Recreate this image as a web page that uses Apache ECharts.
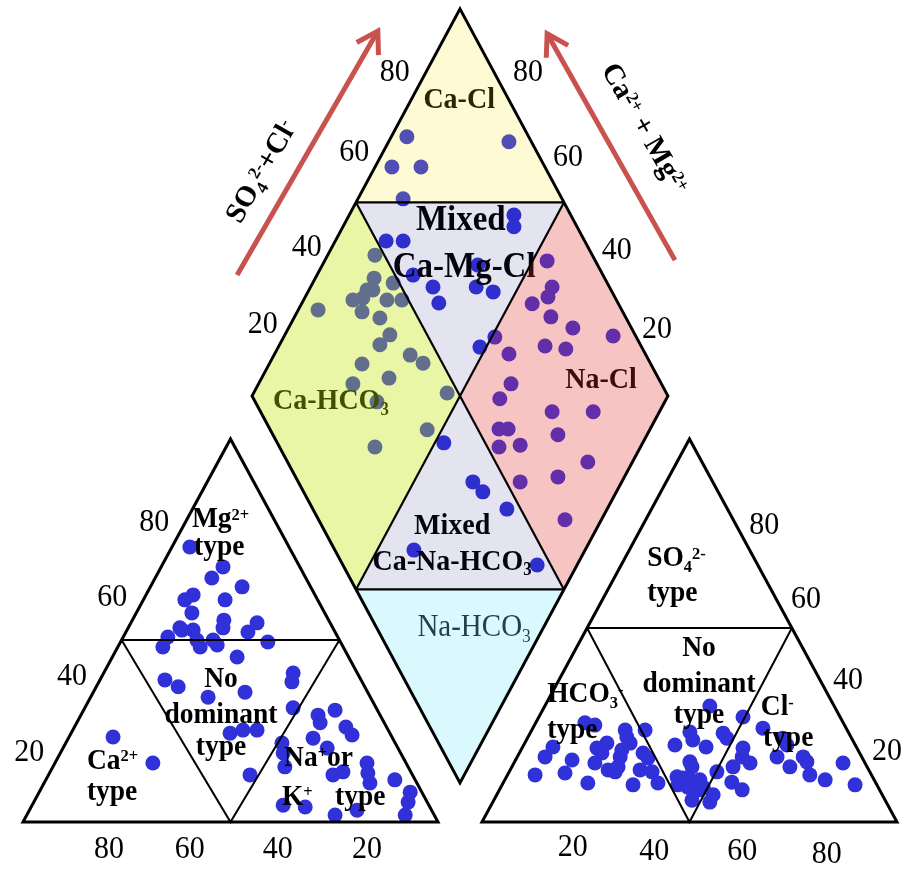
<!DOCTYPE html>
<html>
<head>
<meta charset="utf-8">
<title>Piper diagram</title>
<script src="https://cdn.jsdelivr.net/npm/echarts@6/dist/echarts.min.js"></script>
<style>
  html, body { margin: 0; padding: 0; background: #fff; }
  #piper { width: 914px; height: 869px; }
</style>
</head>
<body>
<div id="piper"></div>
<script>
// plot units: x = % along a triangle base (cation triangle 0-100), y = % of a triangle height
const GAP = 10.6

// cation triangle samples
const cationPoints = [
  [40.2, 71.8], [48.2, 66.6], [45.5, 63.7], [52.8, 61.4], [41.0, 59.3], [39.0, 58.0], [48.7, 58.0],
  [40.7, 54.6], [48.4, 52.7], [48.2, 50.7], [38.3, 50.1], [34.9, 48.3], [41.0, 50.1], [41.9, 47.5],
  [45.8, 47.5], [33.7, 45.7], [56.4, 52.0], [54.2, 49.6], [59.0, 47.0], [37.8, 50.7], [42.7, 45.7],
  [46.8, 46.2], [34.2, 37.1], [37.4, 35.3], [44.6, 32.6], [49.9, 23.2], [21.7, 22.2], [31.3, 15.4],
  [51.6, 43.1], [65.1, 38.9], [64.8, 36.6], [53.5, 33.9], [65.1, 29.8], [75.2, 29.2], [71.1, 27.9],
  [71.6, 25.9], [77.8, 24.8], [79.3, 22.7], [53.0, 24.0], [56.4, 24.0], [69.9, 21.9], [62.4, 20.6],
  [73.3, 19.3], [62.7, 18.0], [63.1, 14.4], [82.9, 15.4], [83.1, 12.8], [83.6, 10.2], [74.7, 12.3],
  [77.1, 13.1], [54.7, 12.3], [89.6, 11.0], [93.3, 7.8], [92.8, 5.2], [62.7, 4.4], [68.0, 3.9],
  [80.5, 3.1], [75.2, 1.8], [92.1, 1.8]
]

// anion triangle samples
const anionPoints = [
  [165.5, 30.3], [173.5, 27.4], [135.4, 25.9], [137.8, 25.3], [145.1, 24.0], [145.5, 22.2], [146.3, 20.6],
  [149.9, 24.0], [168.7, 23.2], [169.6, 21.9], [178.3, 24.5], [160.7, 23.5], [161.4, 21.4], [127.7, 19.6],
  [140.7, 20.6], [138.3, 19.3], [139.5, 18.0], [144.3, 18.8], [143.9, 17.0], [143.4, 14.4], [157.1, 20.1],
  [164.6, 19.6], [173.5, 19.3], [173.3, 17.0], [183.1, 21.9], [184.1, 20.1], [125.8, 17.0], [132.3, 16.2],
  [137.8, 15.4], [149.4, 18.0], [150.6, 16.7], [181.7, 17.0], [188.0, 17.0], [188.9, 15.7], [160.7, 15.7],
  [161.2, 14.4], [175.2, 15.4], [197.6, 15.4], [123.4, 12.3], [130.6, 12.8], [141.0, 13.6], [142.7, 13.1],
  [148.7, 13.6], [151.6, 13.1], [167.2, 13.1], [171.1, 14.4], [184.8, 14.4], [189.6, 12.3], [193.3, 11.0],
  [157.6, 11.8], [159.0, 11.5], [160.7, 11.0], [163.1, 11.0], [157.8, 9.7], [160.2, 9.1], [170.8, 10.4],
  [136.1, 10.2], [147.0, 9.7], [153.0, 10.2], [200.5, 9.7], [173.3, 8.4], [163.1, 8.4], [163.9, 9.1],
  [166.3, 7.1], [165.5, 5.2], [161.2, 5.7]
]

// diamond samples
const diamondPoints = [
  [92.5, 178.9], [117.1, 177.6], [88.9, 171.0], [95.9, 171.0], [91.6, 162.7],
  [87.5, 151.7], [91.6, 151.7], [94.0, 142.8], [98.8, 139.7], [100.2, 135.5], [118.3, 158.5],
  [118.3, 155.4], [109.6, 145.4], [109.2, 139.7], [113.3, 138.4], [110.1, 124.0],
  [101.4, 99.0], [108.4, 88.8], [110.8, 86.2], [116.6, 81.7], [94.2, 71.0], [123.9, 67.1],
  [84.8, 148.0], [84.6, 142.0], [89.2, 140.7], [82.9, 138.9], [84.3, 138.9], [79.5, 136.3],
  [81.9, 136.8], [87.7, 136.3], [91.3, 136.3], [71.1, 133.7], [81.7, 133.2], [86.0, 131.6],
  [88.4, 127.2], [86.0, 124.6], [93.3, 121.9], [96.4, 119.8], [81.7, 119.6], [88.2, 115.9],
  [79.5, 114.4], [85.3, 109.7], [102.2, 112.0], [97.4, 102.4], [84.8, 97.9],
  [126.3, 146.5], [127.5, 139.7], [126.5, 137.1], [122.7, 135.3], [127.2, 131.9], [132.5, 129.0],
  [142.2, 126.9], [113.7, 126.6], [125.8, 124.3], [130.8, 123.5], [117.1, 122.2], [117.6, 114.4],
  [114.9, 110.5], [127.5, 107.1], [137.4, 107.1], [114.7, 102.6], [116.9, 102.6], [128.9, 101.1],
  [114.7, 97.9], [119.8, 98.4], [136.1, 94.0], [119.8, 88.8], [128.9, 90.1], [130.6, 78.9]
]

const tickValues = ['20', '40', '60', '80']

// where each edge's tick labels sit (same order as tickValues)
const tickAnchors = {
  cationLeft: [[1.5, 18.0], [11.8, 37.9], [21.5, 58.5], [31.6, 78.3]],
  cationBottom: [[82.9, -7.3], [61.4, -7.3], [40.2, -7.3], [20.7, -7.3]],
  anionRight: [[208.2, 18.3], [198.8, 36.8], [188.7, 58.0], [178.6, 77.3]],
  anionBottom: [[132.5, -6.8], [152.1, -7.8], [173.3, -7.8], [193.7, -8.6]],
  diamondLeft: [[57.8, 129.8], [68.4, 149.9], [79.8, 174.7], [89.6, 195.6]],
  diamondRight: [[152.8, 128.5], [143.1, 149.1], [131.3, 173.4], [121.7, 195.6]]
}

const DOT = '#3131d9'
const SERIF = '"Liberation Serif", "Times New Roman", serif'
const STRETCH = 1.067

// geometry
const L = [[0, 0], [100, 0], [50, 100]]
const R = [[100 + GAP, 0], [200 + GAP, 0], [150 + GAP, 100]]
const dTop = [105.3, 212.3]
const dBottom = [105.3, 10.2]
const dLeft = [55.2, 111.25]
const dRight = [155.4, 111.25]
const mid = (a, b) => [(a[0] + b[0]) / 2, (a[1] + b[1]) / 2]
const dCenter = mid(dTop, dBottom)
const dUL = mid(dLeft, dTop)
const dUR = mid(dRight, dTop)
const dLL = mid(dLeft, dBottom)
const dLR = mid(dRight, dBottom)
const cSplit = 47.5
const aSplit = 50.65

const regions = [
  { pts: [dTop, dUL, dUR], fill: 'rgba(243,226,0,0.17)' },
  { pts: [dUL, dUR, dCenter], fill: 'rgba(30,30,135,0.12)' },
  { pts: [dLeft, dUL, dCenter, dLL], fill: 'rgba(189,229,0,0.35)' },
  { pts: [dRight, dUR, dCenter, dLR], fill: 'rgba(226,44,44,0.28)' },
  { pts: [dCenter, dLL, dLR], fill: 'rgba(30,30,135,0.12)' },
  { pts: [dLL, dLR, dBottom], fill: 'rgba(120,235,250,0.28)' }
]

const frames = [
  { pts: L, closed: true, w: 3 },
  { pts: R, closed: true, w: 3 },
  { pts: [dTop, dRight, dBottom, dLeft], closed: true, w: 3 },
  { pts: [dUL, dUR], w: 2.2 },
  { pts: [dLL, dLR], w: 2.2 },
  { pts: [dUL, dLR], w: 2.2 },
  { pts: [dUR, dLL], w: 2.2 },
  { pts: [[cSplit / 2, cSplit], [100 - cSplit / 2, cSplit]], w: 2 },
  { pts: [[cSplit / 2, cSplit], [50, 0], [100 - cSplit / 2, cSplit]], w: 2 },
  { pts: [[100 + GAP + aSplit / 2, aSplit], [200 + GAP - aSplit / 2, aSplit]], w: 2 },
  { pts: [[100 + GAP + aSplit / 2, aSplit], [150 + GAP, 0], [200 + GAP - aSplit / 2, aSplit]], w: 2 }
]

// labels inside the coloured fields (drawn under the fills, so they pick up the tint)
const fieldTexts = [
  { text: 'Ca-Cl', pos: [105.1, 188.5], size: 28 },
  { text: 'Mixed', pos: [105.5, 156.9], size: 33 },
  { text: 'Ca-Mg-Cl', pos: [106.3, 144.7], size: 33 },
  { text: 'Ca-HCO{sub|3}', pos: [74.2, 109.9], size: 28 },
  { text: 'Na-Cl', pos: [139.3, 115.4], size: 28 },
  { text: 'Mixed', pos: [103.4, 77.3], size: 28 },
  { text: 'Ca-Na-HCO{sub|3}', pos: [103.4, 67.9], size: 28 },
  { text: 'Na-HCO{sub|3}', pos: [108.7, 50.7], size: 29, weight: 'normal' }
]

const typeTexts = [
  { text: 'Mg{sup|2+}', pos: [40.7, 78.9], align: 'left' },
  { text: 'type', pos: [41.2, 71.8], align: 'left' },
  { text: 'No', pos: [47.7, 37.3] },
  { text: 'dominant', pos: [47.7, 27.7] },
  { text: 'type', pos: [47.7, 19.6] },
  { text: 'Ca{sup|2+}', pos: [15.4, 15.9], align: 'left' },
  { text: 'type', pos: [15.4, 7.6], align: 'left' },
  { text: 'Na{sup|+}or', pos: [62.9, 16.7], align: 'left' },
  { text: 'K{sup|+}', pos: [62.4, 6.5], align: 'left' },
  { text: 'type', pos: [75.2, 6.5], align: 'left' },
  { text: 'SO{sub|4}{sup|2-}', pos: [150.4, 68.7], align: 'left' },
  { text: 'type', pos: [150.4, 59.8], align: 'left' },
  { text: 'No', pos: [162.9, 45.4] },
  { text: 'dominant', pos: [162.9, 36.0] },
  { text: 'type', pos: [162.9, 27.9] },
  { text: 'HCO{sub|3}{sup|-}', pos: [126.3, 33.2], align: 'left' },
  { text: 'type', pos: [126.3, 24.0], align: 'left' },
  { text: 'Cl{sup|-}', pos: [177.8, 29.8], align: 'left' },
  { text: 'type', pos: [178.3, 21.7], align: 'left' }
]

const arrows = [
  { from: [51.6, 142.8], to: [85.5, 206.5], text: 'SO{sub|4}{sup|2-}+Cl{sup|-}', textPos: [57.6, 169.7], rotate: 60 },
  { from: [157.1, 146.7], to: [126.3, 205.8], text: 'Ca{sup|2+} + Mg{sup|2+}', textPos: [149.6, 180.9], rotate: -60 }
]

const allTicks = []
Object.keys(tickAnchors).forEach(k => {
  tickAnchors[k].forEach((pos, i) => {
    allTicks.push({ text: tickValues[i], pos, size: 30, weight: 'normal' })
  })
})

function font (size, weight) {
  return `${weight || 'bold'} ${size}px ${SERIF}`
}

function textEl (t, api) {
  const p = api.coord(t.pos)
  const size = t.size || 27.5
  const w = t.weight || 'bold'
  return {
    type: 'text',
    x: p[0],
    y: p[1],
    rotation: (t.rotate || 0) * Math.PI / 180,
    scaleY: t.rotate ? 1 : STRETCH,
    style: {
      text: t.text,
      font: font(size, w),
      fill: '#000',
      align: t.align || 'center',
      verticalAlign: 'middle',
      lineHeight: size * 1.2,
      rich: {
        sup: { font: font(size * 0.6, w), verticalAlign: 'top', padding: [size * 0.14, 0, 0, 0] },
        sub: { font: font(size * 0.6, w), verticalAlign: 'bottom' }
      }
    }
  }
}

function textSeries (list, z) {
  return {
    type: 'custom',
    z,
    silent: true,
    data: list.map(t => t.pos),
    renderItem: (params, api) => textEl(list[params.dataIndex], api)
  }
}

function dots (data) {
  return {
    type: 'scatter',
    z: 1,
    silent: true,
    symbolSize: 15,
    itemStyle: { color: DOT, opacity: 1 },
    data
  }
}

const option = {
  animation: false,
  backgroundColor: '#fff',
  grid: { left: 0, right: 0, top: 0, bottom: 0 },
  xAxis: { type: 'value', min: -5.54, max: 214.7, show: false },
  yAxis: { type: 'value', min: -12.27, max: 214.62, show: false },
  series: [
    dots(cationPoints),
    dots(anionPoints),
    dots(diamondPoints),
    textSeries(fieldTexts, 2),
    {
      type: 'custom',
      z: 3,
      silent: true,
      data: regions.map(r => r.pts[0]),
      renderItem: (params, api) => ({
        type: 'polygon',
        shape: { points: regions[params.dataIndex].pts.map(p => api.coord(p)) },
        style: { fill: regions[params.dataIndex].fill }
      })
    },
    {
      type: 'custom',
      z: 4,
      silent: true,
      data: frames.map(f => f.pts[0]),
      renderItem: (params, api) => {
        const f = frames[params.dataIndex]
        return {
          type: f.closed ? 'polygon' : 'polyline',
          shape: { points: f.pts.map(p => api.coord(p)) },
          style: { fill: null, stroke: '#000', lineWidth: f.w, lineJoin: 'miter' }
        }
      }
    },
    textSeries(typeTexts, 5),
    textSeries(allTicks, 5),
    {
      type: 'custom',
      z: 5,
      silent: true,
      data: arrows.map(a => a.from),
      renderItem: (params, api) => {
        const a = arrows[params.dataIndex]
        const p1 = api.coord(a.from)
        const p2 = api.coord(a.to)
        const ang = Math.atan2(p2[1] - p1[1], p2[0] - p1[0])
        const len = 24
        const arm = d => [p2[0] - len * Math.cos(ang + d), p2[1] - len * Math.sin(ang + d)]
        const stroke = { stroke: '#c9524f', lineWidth: 5, fill: null, lineCap: 'butt' }
        return {
          type: 'group',
          children: [
            { type: 'line', shape: { x1: p1[0], y1: p1[1], x2: p2[0], y2: p2[1] }, style: stroke },
            { type: 'polyline', shape: { points: [arm(0.55), p2, arm(-0.55)] }, style: Object.assign({ lineJoin: 'miter' }, stroke) },
            textEl({ text: a.text, pos: a.textPos, rotate: a.rotate, size: 29 }, api)
          ]
        }
      }
    }
  ]
}

const chart = echarts.init(document.getElementById('piper'))
chart.setOption(option)
</script>
</body>
</html>
